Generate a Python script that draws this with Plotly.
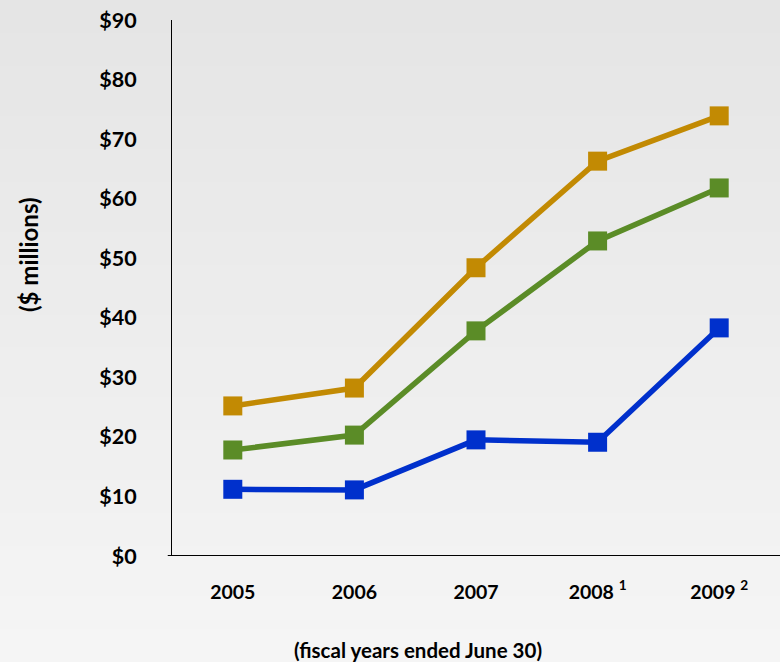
import plotly.graph_objects as go

years = ["2005", "2006", "2007", "2008 <sup>1</sup>", "2009 <sup>2</sup>"]
gold_vals = [25.2, 28.2, 48.4, 66.3, 73.9]
green_vals = [17.8, 20.3, 37.8, 52.9, 61.8]
blue_vals = [11.2, 11.1, 19.5, 19.1, 38.3]
y_ticks = [0, 10, 20, 30, 40, 50, 60, 70, 80, 90]
y_tick_text = ["$" + str(v) for v in y_ticks]

FONT = "Lato"
series = [
    (gold_vals, "#C28A03"),
    (green_vals, "#5B8C27"),
    (blue_vals, "#0030CC"),
]

fig = go.Figure()
xs = list(range(len(years)))
for vals, color in series:
    fig.add_trace(go.Scatter(
        x=xs, y=vals, mode="lines+markers",
        line=dict(color=color, width=5.5),
        marker=dict(symbol="square", size=19, color=color),
        showlegend=False, hoverinfo="skip",
    ))

# soft vertical gradient for the background
shapes = []
n = 40
top, bot = (0xE5, 0xE5, 0xE5), (0xF5, 0xF5, 0xF5)
y0p, y1p = -106 / 536, 1 + 20 / 536
for i in range(n):
    t = i / (n - 1)
    c = tuple(round(bot[k] + (top[k] - bot[k]) * t) for k in range(3))
    shapes.append(dict(
        type="rect", xref="paper", yref="paper", layer="below",
        x0=-0.3, x1=1.05,
        y0=y0p + (y1p - y0p) * i / n, y1=y0p + (y1p - y0p) * (i + 1) / n + 0.002,
        fillcolor="rgb(%d,%d,%d)" % c, line=dict(width=0),
    ))
# x axis baseline slightly wider than the plot area
shapes.append(dict(type="line", xref="paper", yref="y", x0=-0.007, x1=1.0,
                   y0=0, y1=0, line=dict(color="black", width=2.2)))

fig.update_layout(
    width=780, height=662,
    margin=dict(l=172, r=0, t=20, b=106),
    paper_bgcolor="#ECECEC", plot_bgcolor="rgba(0,0,0,0)",
    shapes=shapes,
    font=dict(family=FONT, color="black"),
    xaxis=dict(
        range=[-0.5, 4.5], tickvals=xs, ticktext=["<b>%s</b>" % y for y in years],
        showgrid=False, zeroline=False, showline=False, ticks="",
        tickfont=dict(size=19.5, family=FONT), ticklabelstandoff=22,
        fixedrange=True,
    ),
    yaxis=dict(
        range=[0, 90], tickvals=y_ticks, ticktext=["<b>%s</b>" % t for t in y_tick_text],
        showgrid=False, zeroline=False, showline=True, linecolor="black", linewidth=1,
        ticks="", tickfont=dict(size=21.5, family=FONT), ticklabelstandoff=30,
        fixedrange=True,
    ),
    annotations=[
        dict(text="<b>(fiscal years ended June 30)</b>", xref="paper", yref="paper",
             x=(418 - 172) / 608, y=-(650 - 556) / 536, showarrow=False,
             font=dict(size=20.5, family=FONT), xanchor="center", yanchor="middle"),
        dict(text="<b>($ millions)</b>", xref="paper", yref="paper",
             x=-(172 - 28) / 608, y=(556 - 255) / 536, showarrow=False, textangle=-90,
             font=dict(size=24, family=FONT), xanchor="center", yanchor="middle"),
    ],
)

fig.write_html("out.html")
